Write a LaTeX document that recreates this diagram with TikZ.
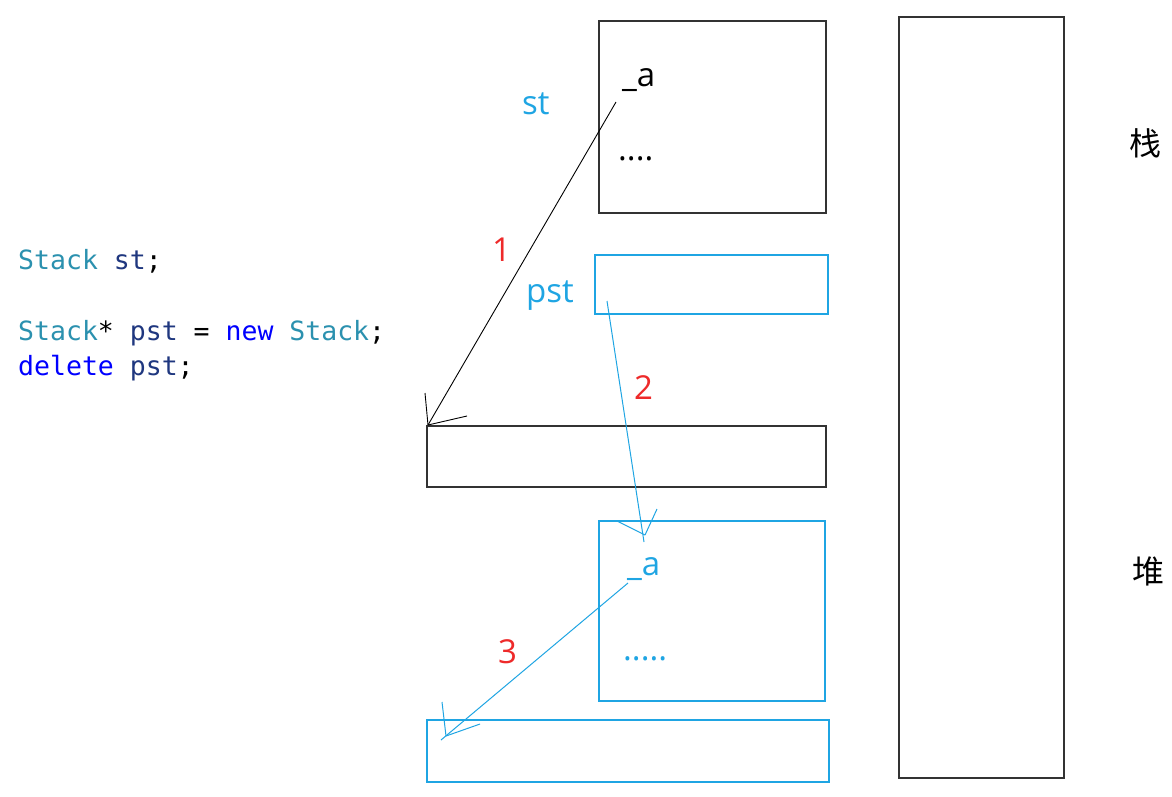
\documentclass[tikz,border=0pt]{standalone}
\usepackage{fontspec}
\setmainfont{Open Sans}
\newfontfamily\cjkf{Noto Sans CJK SC}
\newfontfamily\codef{DejaVu Sans Mono}
\definecolor{skyb}{HTML}{1FA5E3}
\definecolor{dk}{HTML}{333333}
\definecolor{numred}{HTML}{EE2A2A}
\definecolor{cteal}{HTML}{2B91AF}
\definecolor{cnavy}{HTML}{1F377F}
\definecolor{ckw}{HTML}{0000FF}
\begin{document}
\begin{tikzpicture}[x=1pt,y=-1pt,
  blkbox/.style={draw=dk,line width=1.5pt},
  blubox/.style={draw=skyb,line width=1.3pt},
  lbl/.style={font=\fontsize{33}{36}\selectfont,inner sep=0pt,anchor=base west},
  num/.style={lbl,text=numred},
  code/.style={font=\codef\fontsize{26.5}{30}\selectfont,inner sep=0pt,anchor=base west},
  blkarrow/.style={draw=black,line width=0.9pt},
  bluarrow/.style={draw=skyb,line width=1pt}]
\useasboundingbox (0,0) rectangle (1172,796);
\fill[white] (0,0) rectangle (1172,796);
% boxes
\draw[blkbox] (599,21) rectangle (826,213);
\draw[blubox] (595,255) rectangle (828,314);
\draw[blkbox] (427,426) rectangle (826,487);
\draw[blubox] (599,521) rectangle (825,701);
\draw[blubox] (427,720) rectangle (829,782);
\draw[blkbox] (899,17) rectangle (1064,778);
% side labels
\node[font=\cjkf\fontsize{32}{36}\selectfont,inner sep=0pt] (zhan) at (1145,143) {栈};
\node[font=\cjkf\fontsize{32}{36}\selectfont,inner sep=0pt] (dui) at (1148,571) {堆};
% code
\node[code] (c1) at (18,269) {\textcolor{cteal}{Stack} \textcolor{cnavy}{st};};
\node[code] (c2) at (18,340) {\textcolor{cteal}{Stack}* \textcolor{cnavy}{pst} = \textcolor{ckw}{new} \textcolor{cteal}{Stack};};
\node[code] (c3) at (18,375) {\textcolor{ckw}{delete} \textcolor{cnavy}{pst};};
% labels
\node[lbl,text=skyb] (st) at (522,114) {st};
\node[lbl,text=skyb] (pst) at (526,302) {pst};
\node[lbl] (a1) at (622,86) {\_a};
\node[lbl] (d1) at (618,160) {....};
\node[lbl,text=skyb] (a2) at (627,575) {\_a};
\node[lbl,text=skyb] (d2) at (623,660) {.....};
\node[num] (n1) at (492,261) {1};
\node[num] (n2) at (634,399) {2};
\node[num] (n3) at (498,663) {3};
% arrow 1
\coordinate (s1) at (616,102);
\coordinate (t1) at (428,425);
\draw[blkarrow] (s1) -- (t1);
\draw[blkarrow] (t1) -- (425,393);
\draw[blkarrow] (t1) -- (467,416);
% arrow 2
\coordinate (s2) at (607,301);
\coordinate (t2) at (645,535);
\coordinate (e2) at (644,542);
\draw[bluarrow] (s2) -- (e2);
\draw[bluarrow] (t2) -- (617,521);
\draw[bluarrow] (t2) -- (657,509);
% arrow 3
\coordinate (s3) at (628,583);
\coordinate (t3) at (446,736);
\coordinate (e3) at (441,740);
\draw[bluarrow] (s3) -- (e3);
\draw[bluarrow] (t3) -- (442,702);
\draw[bluarrow] (t3) -- (480,724);
\end{tikzpicture}
\end{document}
